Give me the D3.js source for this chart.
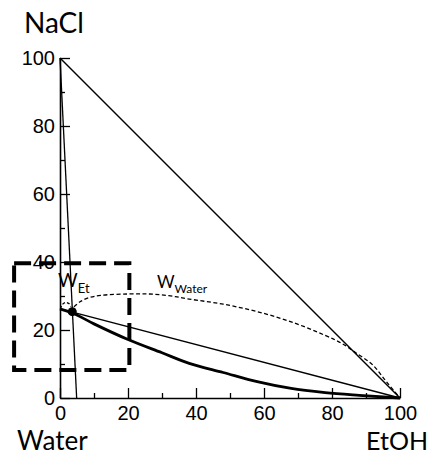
<!DOCTYPE html>
<html>
<head>
<meta charset="utf-8">
<script src="https://cdn.jsdelivr.net/npm/d3@7"></script>
<style>
  html, body { margin: 0; padding: 0; background: #fff; }
  svg { display: block; }
</style>
</head>
<body>
<svg id="chart" width="436" height="455"></svg>
<script>
// Axis ticks (wt %)
const majorTicks = [0, 20, 40, 60, 80, 100];
const minorTicks = [10, 30, 50, 70, 90];

// Corner labels of the composition diagram
const cornerTop = "NaCl";
const cornerLeft = "Water";
const cornerRight = "EtOH";

// Edge of the triangle: pure NaCl to pure EtOH
const edgeX = [0, 100];
const edgeY = [100, 0];

// Tie line from pure NaCl down through the operating point
const tieX = [0, 4.9];
const tieY = [100, 0];

// Straight line from the saturated brine to pure EtOH
const chordX = [0, 100];
const chordY = [26.2, 0];

// NaCl solubility curve in water/ethanol mixtures
const solX = [0, 3.6, 10, 20, 30, 38, 48, 58, 68, 78, 88, 100];
const solY = [26.2, 25.0, 21.8, 17.2, 13.3, 10.2, 7.5, 4.8, 2.8, 1.6, 0.8, 0];

// Operating point
const pointX = [3.6];
const pointY = [25.4];

// Dashed arc W_Water
const wWaterX = [4.1, 5.9, 8.5, 12, 20, 26, 32, 38, 48, 58, 68, 78, 83, 87, 92, 96, 100];
const wWaterY = [26.8, 28.3, 29.5, 30.2, 30.6, 30.6, 30.1, 29.1, 27.6, 25.4, 22.4, 18.4, 16.0, 13.3, 9.7, 4.8, 0];

// Dashed arc W_Et
const wEtX = [0.1, 0.8, 1.8, 2.7, 3.2];
const wEtY = [26.2, 27.6, 28.1, 27.7, 26.9];

// Zoom window outline
const boxX = [-13.5, 20.4];
const boxY = [8.2, 39.6];

const svg = d3.select("#chart");
const x = d3.scaleLinear().domain([0, 100]).range([60, 400]);
const y = d3.scaleLinear().domain([0, 100]).range([398, 58]);

const zip = (xs, ys) => xs.map((v, i) => [v, ys[i]]);
const line = d3.line().x(d => x(d[0])).y(d => y(d[1]));
const tickFont = "'Liberation Sans', Arial, sans-serif";

// Axes with inward ticks
const gx = svg.append("g").attr("transform", `translate(0,${y(0)})`);
gx.call(d3.axisBottom(x).tickValues(minorTicks).tickSize(-5).tickFormat(""));
gx.call(g => g.select(".domain").remove());
const gxMaj = svg.append("g").attr("transform", `translate(0,${y(0)})`)
  .call(d3.axisBottom(x).tickValues(majorTicks).tickSizeInner(-10).tickSizeOuter(0).tickPadding(8));

const gy = svg.append("g").attr("transform", `translate(${x(0)},0)`);
gy.call(d3.axisLeft(y).tickValues(minorTicks).tickSize(-5).tickFormat(""));
gy.call(g => g.select(".domain").remove());
const gyMaj = svg.append("g").attr("transform", `translate(${x(0)},0)`)
  .call(d3.axisLeft(y).tickValues(majorTicks).tickSizeInner(-10).tickSizeOuter(0).tickPadding(5));

[gx, gxMaj, gy, gyMaj].forEach(g => g.attr("font-family", tickFont).attr("font-size", 20));
svg.selectAll(".domain").attr("stroke", "#000").attr("stroke-width", 1.6);
svg.selectAll(".tick line").attr("stroke", "#000").attr("stroke-width", 1.3);
svg.selectAll(".tick text").attr("font-family", tickFont).attr("font-size", 20).attr("fill", "#000");
gxMaj.selectAll(".tick text").attr("dy", "0.72em");

// Triangle edge, tie line and chord
svg.append("path").datum(zip(edgeX, edgeY)).attr("d", line)
  .attr("fill", "none").attr("stroke", "#000").attr("stroke-width", 1.5);
svg.append("path").datum(zip(tieX, tieY)).attr("d", line)
  .attr("fill", "none").attr("stroke", "#000").attr("stroke-width", 1.3);
svg.append("path").datum(zip(chordX, chordY)).attr("d", line)
  .attr("fill", "none").attr("stroke", "#000").attr("stroke-width", 1.4);

// Solubility curve
svg.append("path").datum(zip(solX, solY))
  .attr("d", line.curve(d3.curveMonotoneX))
  .attr("fill", "none").attr("stroke", "#000").attr("stroke-width", 2.8);

// Dashed arcs
const smooth = d3.line().x(d => x(d[0])).y(d => y(d[1])).curve(d3.curveCatmullRom.alpha(0.5));
svg.append("path").datum(zip(wWaterX, wWaterY)).attr("d", smooth)
  .attr("fill", "none").attr("stroke", "#000").attr("stroke-width", 1.3)
  .attr("stroke-dasharray", "4,2.5");
svg.append("path").datum(zip(wEtX, wEtY)).attr("d", smooth)
  .attr("fill", "none").attr("stroke", "#000").attr("stroke-width", 1.3)
  .attr("stroke-dasharray", "3,2");

// Operating point
svg.selectAll(".pt").data(zip(pointX, pointY)).join("circle")
  .attr("class", "pt")
  .attr("cx", d => x(d[0])).attr("cy", d => y(d[1])).attr("r", 4.5)
  .attr("fill", "#000");

// Zoom window
svg.append("rect")
  .attr("x", x(boxX[0])).attr("y", y(boxY[1]))
  .attr("width", x(boxX[1]) - x(boxX[0])).attr("height", y(boxY[0]) - y(boxY[1]))
  .attr("fill", "none").attr("stroke", "#000").attr("stroke-width", 4)
  .attr("stroke-dasharray", "17,8");

// Corner labels
const labelFont = "Lato, 'Open Sans', sans-serif";
svg.append("text").text(cornerTop).attr("x", 24).attr("y", 33)
  .attr("font-family", labelFont).attr("font-size", 28).attr("fill", "#000");
svg.append("text").text(cornerLeft).attr("x", 17).attr("y", 450)
  .attr("font-family", labelFont).attr("font-size", 26).attr("fill", "#000");
svg.append("text").text(cornerRight).attr("x", 428).attr("y", 450)
  .attr("text-anchor", "end")
  .attr("font-family", labelFont).attr("font-size", 25).attr("fill", "#000");

// Arc labels with subscripts
function subLabel(px, py, main, sub, size, subSize) {
  const t = svg.append("text").attr("x", px).attr("y", py)
    .attr("font-family", labelFont).attr("fill", "#000");
  t.append("tspan").text(main).attr("font-size", size);
  t.append("tspan").text(sub).attr("font-size", subSize).attr("dy", size * 0.32);
}
subLabel(58, 287, "W", "Et", 19, 13);
subLabel(157, 288, "W", "Water", 17, 12);
</script>
</body>
</html>
